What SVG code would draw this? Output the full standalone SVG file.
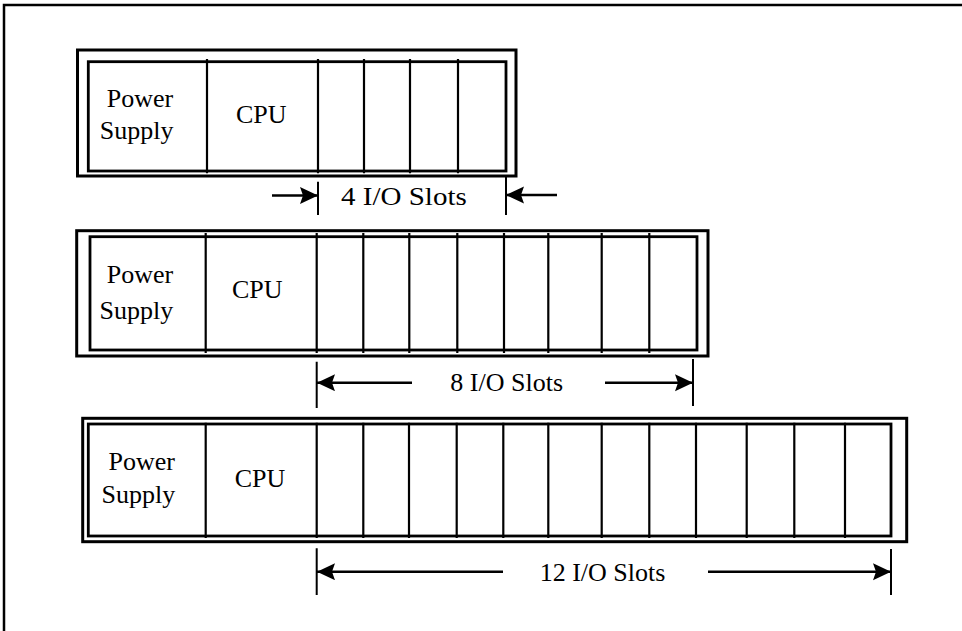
<svg xmlns="http://www.w3.org/2000/svg" width="962" height="631" viewBox="0 0 962 631">
<style>
.bg{fill:#fff}
.frame{fill:none;stroke:#000;stroke-width:2.5}
.outer{fill:none;stroke:#000;stroke-width:3}
.inner{fill:none;stroke:#000;stroke-width:2.8}
.div{stroke:#000;stroke-width:2.2}
.tick{stroke:#000;stroke-width:2}
.dim{stroke:#000;stroke-width:2.4;fill:none}
text{font-family:"Liberation Serif","Times New Roman",serif;font-size:26px;fill:#000;text-anchor:middle}
</style>
<defs>
<marker id="ah" markerUnits="userSpaceOnUse" markerWidth="19" markerHeight="18" refX="18" refY="8.5" orient="auto" viewBox="0 0 19 18">
<path d="M0,0 L18,8.5 L0,17 L3,8.5 Z" fill="#000"/>
</marker>
</defs>
<rect class="bg" x="0" y="0" width="962" height="631"/>
<rect class="frame" x="4" y="5" width="1000" height="700"/>

<g id="rack4">
<rect class="outer" x="77.5" y="50" width="438.5" height="126"/>
<rect class="inner" x="88.3" y="61.7" width="417.7" height="109.3"/>
<path class="div" d="M207,59V173.3M318,59V173.3M364,59V173.3M410,59V173.3M458,59V173.3"/>
<text x="140" y="106.7">Power</text>
<text x="136.7" y="139.3">Supply</text>
<text x="261.2" y="123.3">CPU</text>
</g>

<g id="rack8">
<rect class="outer" x="76.7" y="230.7" width="631.3" height="125.3"/>
<rect class="inner" x="90" y="236.7" width="607" height="113.3"/>
<path class="div" d="M205.7,233V353M316.7,233V353M363.3,233V353M409.3,233V353M457.3,233V353M504,233V353M548.3,233V353M601.7,233V353M649.3,233V353"/>
<text x="140" y="282.7">Power</text>
<text x="136.3" y="319.3">Supply</text>
<text x="257.2" y="298.3">CPU</text>
</g>

<g id="rack12">
<rect class="outer" x="82.7" y="418.3" width="824" height="123.4"/>
<rect class="inner" x="88.3" y="424" width="802.7" height="112"/>
<path class="div" d="M205.7,422.7V538M316.7,422.7V538M363.3,422.7V538M409,422.7V538M456.7,422.7V538M503.3,422.7V538M548.3,422.7V538M601.7,422.7V538M649.3,422.7V538M696,422.7V538M746.7,422.7V538M794.3,422.7V538M845,422.7V538"/>
<text x="141.7" y="470">Power</text>
<text x="138.3" y="502.7">Supply</text>
<text x="260" y="487">CPU</text>
</g>

<g id="connectors">
<path class="tick" d="M318,181.7V215M506,176V215"/>
<line class="dim" x1="272" y1="195.5" x2="318" y2="195.5" marker-end="url(#ah)"/>
<line class="dim" x1="557" y1="195" x2="506" y2="195" marker-end="url(#ah)"/>
<path class="tick" d="M316.7,361.7V408M693,359V406"/>
<line class="dim" x1="412" y1="382.7" x2="317" y2="382.7" marker-end="url(#ah)"/>
<line class="dim" x1="605" y1="382.7" x2="693" y2="382.7" marker-end="url(#ah)"/>
<path class="tick" d="M316.7,548.3V595M891,549V595"/>
<line class="dim" x1="503" y1="571.7" x2="317" y2="571.7" marker-end="url(#ah)"/>
<line class="dim" x1="708" y1="571.7" x2="891" y2="571.7" marker-end="url(#ah)"/>
</g>

<g id="labels">
<text x="403.9" y="205" textLength="125.7" lengthAdjust="spacingAndGlyphs">4 I/O Slots</text>
<text x="506.7" y="390.7">8 I/O Slots</text>
<text x="602.5" y="580.7">12 I/O Slots</text>
</g>
</svg>
